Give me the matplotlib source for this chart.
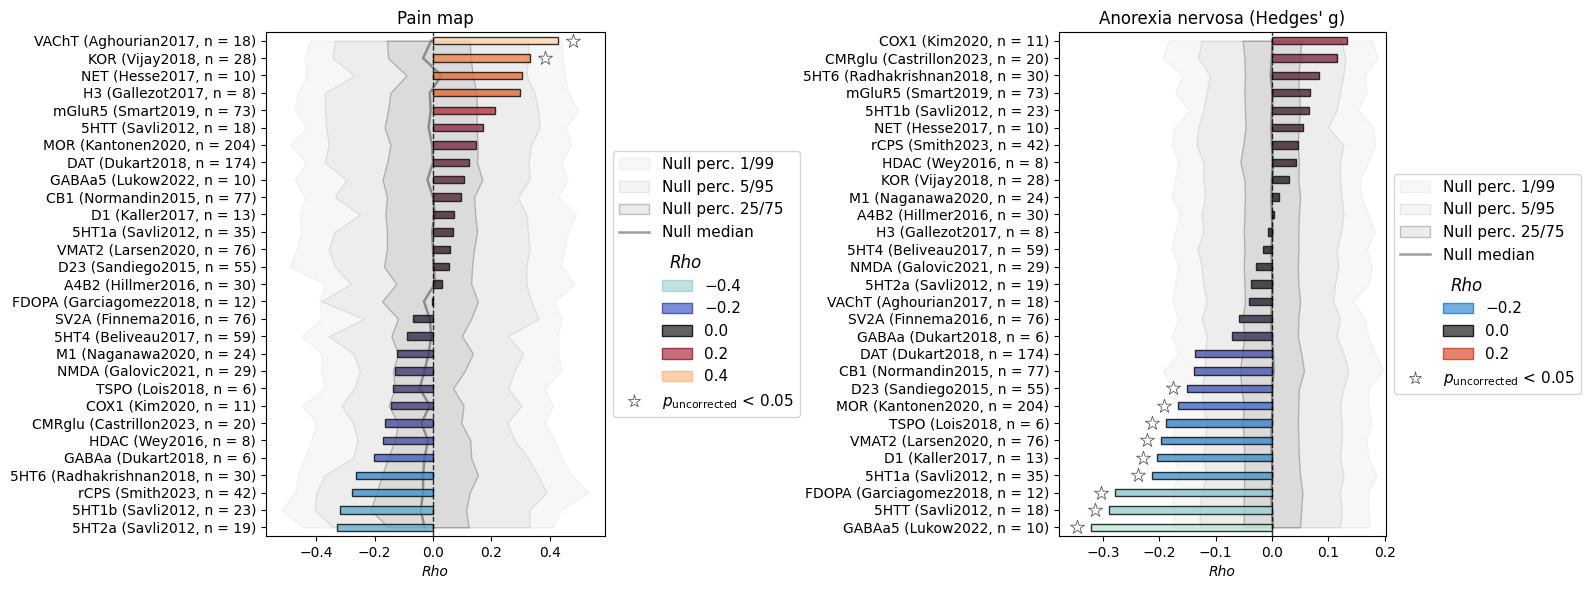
import numpy as np
import matplotlib
matplotlib.use("Agg")
import matplotlib.pyplot as plt
import seaborn as sns
from matplotlib.colors import Normalize
from matplotlib.patches import Rectangle, Patch
from matplotlib.lines import Line2D
from matplotlib.text import Text
from matplotlib.legend_handler import HandlerBase

# ---------------- Data: Pain map ----------------
pain_labels = [
    "VAChT (Aghourian2017, n = 18)", "KOR (Vijay2018, n = 28)", "NET (Hesse2017, n = 10)",
    "H3 (Gallezot2017, n = 8)", "mGluR5 (Smart2019, n = 73)", "5HTT (Savli2012, n = 18)",
    "MOR (Kantonen2020, n = 204)", "DAT (Dukart2018, n = 174)", "GABAa5 (Lukow2022, n = 10)",
    "CB1 (Normandin2015, n = 77)", "D1 (Kaller2017, n = 13)", "5HT1a (Savli2012, n = 35)",
    "VMAT2 (Larsen2020, n = 76)", "D23 (Sandiego2015, n = 55)", "A4B2 (Hillmer2016, n = 30)",
    "FDOPA (Garciagomez2018, n = 12)", "SV2A (Finnema2016, n = 76)", "5HT4 (Beliveau2017, n = 59)",
    "M1 (Naganawa2020, n = 24)", "NMDA (Galovic2021, n = 29)", "TSPO (Lois2018, n = 6)",
    "COX1 (Kim2020, n = 11)", "CMRglu (Castrillon2023, n = 20)", "HDAC (Wey2016, n = 8)",
    "GABAa (Dukart2018, n = 6)", "5HT6 (Radhakrishnan2018, n = 30)", "rCPS (Smith2023, n = 42)",
    "5HT1b (Savli2012, n = 23)", "5HT2a (Savli2012, n = 19)",
]
pain_rho = [0.429, 0.334, 0.305, 0.298, 0.213, 0.171, 0.147, 0.123, 0.106, 0.097,
            0.073, 0.069, 0.059, 0.055, 0.032, -0.002, -0.069, -0.089, -0.123, -0.130,
            -0.137, -0.144, -0.165, -0.171, -0.202, -0.264, -0.278, -0.319, -0.329]
pain_sig = [True, True] + [False] * 27
pain_p1 = [-0.423, -0.44, -0.434, -0.463, -0.474, -0.434, -0.491, -0.434, -0.474, -0.44,
           -0.457, -0.451, -0.469, -0.491, -0.371, -0.389, -0.383, -0.449, -0.383, -0.383,
           -0.371, -0.449, -0.4, -0.417, -0.44, -0.463, -0.474, -0.52, -0.446]
pain_p5 = [-0.337, -0.345, -0.269, -0.371, -0.371, -0.366, -0.358, -0.371, -0.297, -0.337,
           -0.251, -0.337, -0.358, -0.337, -0.282, -0.383, -0.237, -0.358, -0.274, -0.251,
           -0.269, -0.314, -0.274, -0.259, -0.274, -0.371, -0.4, -0.406, -0.343]
pain_p25 = [-0.158, -0.154, -0.091, -0.146, -0.154, -0.166, -0.146, -0.157, -0.173, -0.158,
            -0.163, -0.158, -0.158, -0.168, -0.126, -0.175, -0.12, -0.143, -0.12, -0.137,
            -0.131, -0.152, -0.12, -0.131, -0.154, -0.175, -0.194, -0.214, -0.154]
pain_p50 = [-0.006, -0.034, 0.029, -0.011, -0.008, -0.015, -0.003, 0.0, -0.019, 0.0,
            0.006, -0.003, 0.0, 0.003, 0.006, -0.031, -0.011, -0.006, -0.015, -0.029,
            -0.046, -0.011, -0.04, -0.017, -0.029, -0.034, -0.034, -0.042, -0.029]
pain_p75 = [0.126, 0.129, 0.137, 0.149, 0.151, 0.149, 0.154, 0.151, 0.169, 0.141,
            0.145, 0.151, 0.141, 0.134, 0.131, 0.154, 0.131, 0.099, 0.137, 0.109,
            0.069, 0.105, 0.097, 0.128, 0.131, 0.154, 0.126, 0.114, 0.122]
pain_p95 = [0.326, 0.326, 0.32, 0.349, 0.36, 0.366, 0.337, 0.328, 0.331, 0.291,
            0.32, 0.326, 0.331, 0.32, 0.32, 0.337, 0.363, 0.257, 0.309, 0.28,
            0.257, 0.303, 0.255, 0.28, 0.326, 0.36, 0.389, 0.331, 0.331]
pain_p99 = [0.44, 0.446, 0.451, 0.463, 0.497, 0.457, 0.474, 0.44, 0.463, 0.429,
            0.491, 0.463, 0.451, 0.44, 0.486, 0.417, 0.44, 0.429, 0.429, 0.44,
            0.383, 0.411, 0.383, 0.417, 0.44, 0.474, 0.535, 0.44, 0.411]
pain_xlim = (-0.5725, 0.5897)
pain_xticks = [-0.4, -0.2, 0.0, 0.2, 0.4]
pain_legend_vals = [-0.4, -0.2, 0.0, 0.2, 0.4]

# ---------------- Data: Anorexia nervosa ----------------
an_labels = [
    "COX1 (Kim2020, n = 11)", "CMRglu (Castrillon2023, n = 20)", "5HT6 (Radhakrishnan2018, n = 30)",
    "mGluR5 (Smart2019, n = 73)", "5HT1b (Savli2012, n = 23)", "NET (Hesse2017, n = 10)",
    "rCPS (Smith2023, n = 42)", "HDAC (Wey2016, n = 8)", "KOR (Vijay2018, n = 28)",
    "M1 (Naganawa2020, n = 24)", "A4B2 (Hillmer2016, n = 30)", "H3 (Gallezot2017, n = 8)",
    "5HT4 (Beliveau2017, n = 59)", "NMDA (Galovic2021, n = 29)", "5HT2a (Savli2012, n = 19)",
    "VAChT (Aghourian2017, n = 18)", "SV2A (Finnema2016, n = 76)", "GABAa (Dukart2018, n = 6)",
    "DAT (Dukart2018, n = 174)", "CB1 (Normandin2015, n = 77)", "D23 (Sandiego2015, n = 55)",
    "MOR (Kantonen2020, n = 204)", "TSPO (Lois2018, n = 6)", "VMAT2 (Larsen2020, n = 76)",
    "D1 (Kaller2017, n = 13)", "5HT1a (Savli2012, n = 35)", "FDOPA (Garciagomez2018, n = 12)",
    "5HTT (Savli2012, n = 18)", "GABAa5 (Lukow2022, n = 10)",
]
an_rho = [0.134, 0.115, 0.083, 0.067, 0.065, 0.056, 0.047, 0.042, 0.030, 0.012,
          0.004, -0.0065, -0.015, -0.028, -0.037, -0.040, -0.058, -0.0705, -0.136, -0.138,
          -0.150, -0.166, -0.188, -0.197, -0.204, -0.213, -0.278, -0.289, -0.321]
an_sig = [False] * 20 + [True] * 9
an_p1 = [-0.184, -0.193, -0.16, -0.172, -0.146, -0.173, -0.178, -0.166, -0.172, -0.178,
         -0.163, -0.172, -0.178, -0.166, -0.172, -0.178, -0.166, -0.178, -0.166, -0.193,
         -0.178, -0.166, -0.172, -0.178, -0.172, -0.166, -0.178, -0.175, -0.175]
an_p5 = [-0.125, -0.131, -0.11, -0.116, -0.122, -0.131, -0.134, -0.122, -0.122, -0.119,
         -0.125, -0.122, -0.132, -0.125, -0.122, -0.116, -0.125, -0.116, -0.119, -0.119,
         -0.125, -0.122, -0.116, -0.119, -0.122, -0.116, -0.125, -0.128, -0.128]
an_p25 = [-0.052, -0.049, -0.048, -0.049, -0.048, -0.047, -0.051, -0.056, -0.049, -0.048,
          -0.049, -0.05, -0.049, -0.05, -0.049, -0.048, -0.052, -0.049, -0.053, -0.057,
          -0.054, -0.05, -0.052, -0.05, -0.049, -0.049, -0.05, -0.05, -0.05]
an_p50 = [0.001, 0.0, -0.002, 0.001, 0.0, -0.001, 0.0, 0.002, 0.0, -0.001,
          0.0, 0.001, -0.001, 0.0, 0.001, 0.0, -0.001, 0.0, 0.002, 0.003,
          0.0, 0.001, 0.0, -0.001, 0.0, 0.001, -0.001, 0.0, 0.002]
an_p75 = [0.052, 0.05, 0.047, 0.048, 0.05, 0.047, 0.046, 0.048, 0.047, 0.05,
          0.048, 0.047, 0.047, 0.046, 0.047, 0.05, 0.047, 0.046, 0.052, 0.057,
          0.048, 0.047, 0.046, 0.047, 0.048, 0.05, 0.054, 0.052, 0.05]
an_p95 = [0.124, 0.13, 0.127, 0.121, 0.115, 0.1, 0.127, 0.121, 0.121, 0.124,
          0.127, 0.123, 0.115, 0.118, 0.112, 0.109, 0.121, 0.115, 0.127, 0.136,
          0.127, 0.121, 0.124, 0.124, 0.121, 0.127, 0.121, 0.124, 0.121]
an_p99 = [0.177, 0.188, 0.165, 0.168, 0.153, 0.18, 0.183, 0.171, 0.156, 0.159,
          0.171, 0.183, 0.168, 0.177, 0.171, 0.144, 0.165, 0.171, 0.183, 0.198,
          0.171, 0.171, 0.177, 0.168, 0.171, 0.186, 0.171, 0.171, 0.174]
an_xlim = (-0.378, 0.2025)
an_xticks = [-0.3, -0.2, -0.1, 0.0, 0.1, 0.2]
an_legend_vals = [-0.2, 0.0, 0.2]

CMAP = sns.color_palette("icefire", as_cmap=True)
BAR_ALPHA = 0.8
NULL_STYLES = [  # (face alpha, edge alpha)
    (0.03, 0.04),
    (0.04, 0.08),
    (0.075, 0.22),
]


class HandlerShifted(HandlerBase):
    """Legend handler that draws an indented colour patch + its label, or an indented sub-title."""

    def __init__(self, kind, text, color=None, shift=2.8, extra_top=0.0, **kw):
        super().__init__(**kw)
        self.kind = kind
        self.text = text
        self.color = color
        self.shift = shift
        self.extra_top = extra_top

    def legend_artist(self, legend, orig_handle, fontsize, handlebox):
        if self.extra_top:
            handlebox.height = handlebox.height + self.extra_top
        return super().legend_artist(legend, orig_handle, fontsize, handlebox)

    def create_artists(self, legend, orig_handle, xdescent, ydescent, width, height, fontsize, trans):
        x0 = -xdescent + self.shift * fontsize
        arts = []
        if self.kind == "patch":
            fc = (*self.color[:3], 0.7)
            r = Rectangle((x0, -ydescent), width, height, facecolor=fc,
                          edgecolor=self.color[:3], lw=1.0, transform=trans)
            arts.append(r)
            t = Text(x0 + width + legend.handletextpad * fontsize, 0, self.text,
                     fontsize=fontsize, ha="left", va="baseline", transform=trans)
            arts.append(t)
        else:
            t = Text(x0 + 1.6 * fontsize, 0, self.text, fontsize=12,
                     style="italic", ha="center", va="baseline", transform=trans)
            arts.append(t)
        return arts


def draw_panel(ax, title, labels, rho, sig, p1, p5, p25, p50, p75, p95, p99,
               xlim, xticks, legend_vals):
    n = len(labels)
    y = np.arange(n)
    rho = np.asarray(rho)
    bands = [(p1, p99), (p5, p95), (p25, p75)]
    for (lo, hi), (fa, ea) in zip(bands, NULL_STYLES):
        ax.fill_betweenx(y, lo, hi, facecolor=(0, 0, 0, fa), edgecolor=(0, 0, 0, ea),
                         lw=1.0, zorder=1)
    ax.plot(p50, y, color="0.3", alpha=0.55, lw=1.8, zorder=2)

    vmax = np.max(np.abs(rho))
    norm = Normalize(-vmax, vmax)
    cols = CMAP(norm(rho))
    cols[:, 3] = BAR_ALPHA
    ax.barh(y, rho, height=0.42, color=cols, edgecolor=(0.1, 0.1, 0.1, 0.9), lw=1.0, zorder=3)
    ax.axvline(0, color="k", ls="--", lw=1.0, alpha=0.8, zorder=4)

    star_off = 0.043 * (xlim[1] - xlim[0])
    sig = np.asarray(sig)
    sx = rho[sig] + np.sign(rho[sig]) * star_off
    ax.scatter(sx, y[sig], marker="*", s=110, facecolors="white",
               edgecolors="0.35", linewidths=0.6, zorder=5)

    ax.set_xlim(*xlim)
    ax.set_ylim(n - 0.5, -0.5)
    ax.set_yticks(y)
    ax.set_yticklabels(labels, fontsize=10)
    ax.set_xticks(xticks)
    ax.set_xticklabels([f"{v:.1f}".replace("-", "\u2212") for v in xticks], fontsize=10)
    ax.set_xlabel("Rho", style="italic", fontsize=10)
    ax.set_title(title, fontsize=12)

    # legend
    handles = []
    hl_labels = []
    hmap = {}
    for (fa, ea), lab in zip(NULL_STYLES, ["Null perc. 1/99", "Null perc. 5/95", "Null perc. 25/75"]):
        handles.append(Patch(facecolor=(0, 0, 0, fa), edgecolor=(0, 0, 0, ea), lw=1.0))
        hl_labels.append(lab)
    handles.append(Line2D([], [], color="0.3", alpha=0.55, lw=1.8))
    hl_labels.append("Null median")
    ht = Rectangle((0, 0), 1, 1)
    handles.append(ht)
    hl_labels.append(" ")
    hmap[ht] = HandlerShifted("title", "Rho", extra_top=7.0)
    for v in legend_vals:
        h = Rectangle((0, 0), 1, 1)
        handles.append(h)
        hl_labels.append(" ")
        hmap[h] = HandlerShifted("patch", f"{v:.1f}".replace("-", "\u2212"),
                                 color=CMAP(norm(v)))
    handles.append(Line2D([], [], marker="*", ls="none", markersize=9.5,
                          markerfacecolor="white", markeredgecolor="0.35",
                          markeredgewidth=0.6))
    hl_labels.append("$p_{\\mathrm{uncorrected}}$ < 0.05")
    leg = ax.legend(handles, hl_labels, handler_map=hmap, loc="center left",
                    bbox_to_anchor=(1.0, 0.5), fontsize=11, labelspacing=0.5)
    return leg


fig = plt.figure(figsize=(15.9, 5.9), dpi=100)
W, H = 1590, 590
ax1 = fig.add_axes([266 / W, 1 - 536 / H, (605 - 266) / W, (536 - 32) / H])
ax2 = fig.add_axes([1059 / W, 1 - 536 / H, (1386 - 1059) / W, (536 - 32) / H])

draw_panel(ax1, "Pain map", pain_labels, pain_rho, pain_sig, pain_p1, pain_p5, pain_p25,
           pain_p50, pain_p75, pain_p95, pain_p99, pain_xlim, pain_xticks, pain_legend_vals)
draw_panel(ax2, "Anorexia nervosa (Hedges' g)", an_labels, an_rho, an_sig, an_p1, an_p5, an_p25,
           an_p50, an_p75, an_p95, an_p99, an_xlim, an_xticks, an_legend_vals)

fig.savefig("out.png", dpi=100)
